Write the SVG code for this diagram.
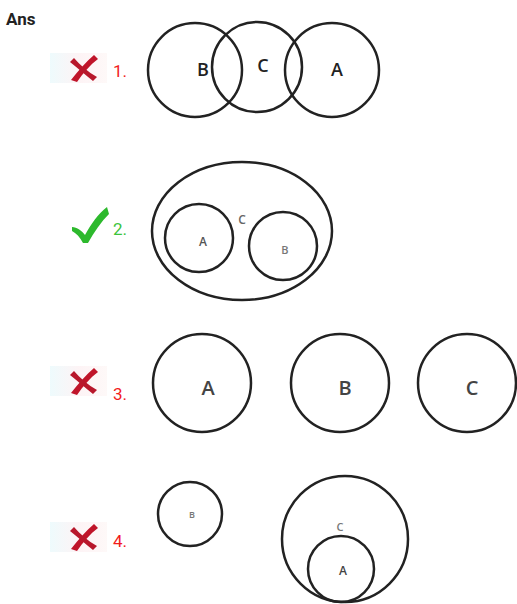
<svg xmlns="http://www.w3.org/2000/svg" width="517" height="604" viewBox="0 0 517 604">
<defs>
<style>
.c{fill:none;stroke:#222;stroke-width:2.5}
.t{font-family:"Open Sans","Liberation Sans",sans-serif;text-anchor:middle;font-weight:600}
.n{font-family:Roboto,"Liberation Sans",sans-serif;font-size:17px}
.red{fill:#f21c1c}
.grn{fill:#3cc43c}
</style>
<linearGradient id="bg" x1="0" x2="1">
<stop offset="0" stop-color="#e3f8fb"/><stop offset="0.5" stop-color="#fcecef"/><stop offset="1" stop-color="#fdf4f3"/>
</linearGradient>
<g id="cross">
<rect x="0" y="0" width="57" height="30" fill="url(#bg)" opacity="0.6"/>
<path d="M21 27 C28 18 36 9 44 2 L48 6 C40 12 33 20 27 29 Z" fill="#c0152a"/>
<path d="M24 5 C30 12 38 19 47 24 L43 28 C35 22 28 15 20 9 Z" fill="#b8182c"/>
</g>
</defs>
<rect width="517" height="604" fill="#fff"/>
<text x="6" y="25" font-family="Roboto,'Liberation Sans',sans-serif" font-size="17" font-weight="bold" fill="#222">Ans</text>

<g id="opt1">
<use href="#cross" x="50" y="53"/>
<text x="113" y="77" class="n red">1.</text>
<circle cx="195" cy="70" r="47" class="c"/>
<circle cx="257" cy="67" r="45" class="c"/>
<circle cx="332" cy="70" r="47" class="c"/>
<text x="203" y="76" class="t" font-size="18" fill="#222">B</text>
<text x="263" y="72" class="t" font-size="18" fill="#222">C</text>
<text x="337" y="76" class="t" font-size="18" fill="#222">A</text>
</g>

<g id="opt2">
<path d="M72 227 C77 227 82 231 85 235 C91 224 98 214 107 207 L109 214 C101 222 94 232 88 243 L83 243 C80 237 76 233 72 231 Z" fill="#2db92d"/>
<text x="113" y="235" class="n grn">2.</text>
<ellipse cx="242" cy="231" rx="90" ry="69" class="c"/>
<circle cx="199" cy="238" r="34" class="c"/>
<circle cx="283" cy="246" r="34" class="c"/>
<text x="242" y="224" class="t" font-size="12" fill="#666">C</text>
<text x="203" y="246" class="t" font-size="12" fill="#555">A</text>
<text x="285" y="254" class="t" font-size="11" fill="#777">B</text>
</g>

<g id="opt3">
<use href="#cross" x="50" y="366"/>
<text x="113" y="400" class="n red">3.</text>
<circle cx="202" cy="383" r="49" class="c" stroke-width="3"/>
<circle cx="340" cy="383" r="49" class="c" stroke-width="3"/>
<circle cx="467" cy="383" r="49" class="c" stroke-width="3"/>
<text x="208" y="395" class="t" font-size="20" fill="#444">A</text>
<text x="345" y="395" class="t" font-size="20" fill="#444">B</text>
<text x="472" y="395" class="t" font-size="20" fill="#444">C</text>
</g>

<g id="opt4">
<use href="#cross" x="50" y="522"/>
<text x="113" y="547" class="n red">4.</text>
<circle cx="190" cy="514" r="32" class="c"/>
<text x="192" y="518" class="t" font-size="9" fill="#777">B</text>
<circle cx="345" cy="539" r="63" class="c"/>
<circle cx="341" cy="569" r="33" class="c"/>
<text x="340" y="531" class="t" font-size="11" fill="#777">C</text>
<text x="343" y="575" class="t" font-size="12" fill="#444">A</text>
</g>
</svg>
